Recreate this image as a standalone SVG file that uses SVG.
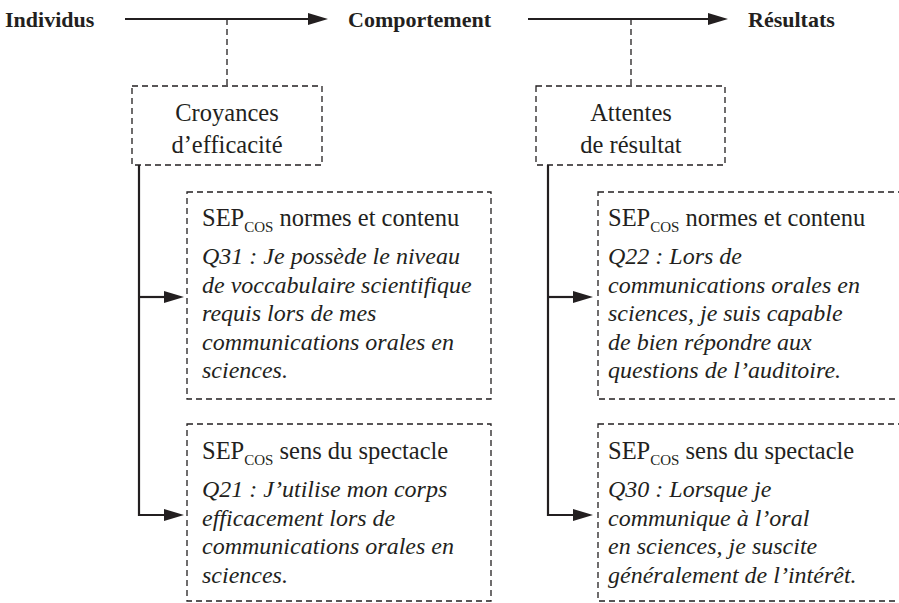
<svg xmlns="http://www.w3.org/2000/svg" width="899" height="603" viewBox="0 0 899 603">
<style>
text{font-family:"Liberation Serif",serif !important;fill:#231f20}
.hdr{font-weight:bold;font-size:22px}
.lbl{font-size:24.5px}
.it{font-style:italic;font-size:24px}
.sub{font-size:15px}
.box{fill:none;stroke:#231f20;stroke-width:1.3;stroke-dasharray:6 4}
.dash{fill:none;stroke:#231f20;stroke-width:1.3;stroke-dasharray:6 4}
.solid{fill:none;stroke:#231f20;stroke-width:2.2}
.head{fill:#231f20}
</style>
<g id="connectors">
  <line class="solid" x1="125" y1="19" x2="312" y2="19"/>
  <polygon class="head" points="328,19 308,13 308,25"/>
  <line class="solid" x1="528" y1="19" x2="712" y2="19"/>
  <polygon class="head" points="728,19 708,13 708,25"/>
  <line class="dash" x1="227" y1="19" x2="227" y2="86"/>
  <line class="dash" x1="631" y1="19" x2="631" y2="86"/>
  <polyline class="solid" points="139,165 139,515 168,515"/>
  <line class="solid" x1="139" y1="297" x2="168" y2="297"/>
  <polygon class="head" points="184,297 164,291 164,303"/>
  <polygon class="head" points="184,515 164,509 164,521"/>
  <polyline class="solid" points="548,165 548,515 577,515"/>
  <line class="solid" x1="548" y1="297" x2="577" y2="297"/>
  <polygon class="head" points="593,297 573,291 573,303"/>
  <polygon class="head" points="593,515 573,509 573,521"/>
</g>
<g id="individus"><text class="hdr" style="font-family:'Liberation Serif',serif" x="5" y="27">Individus</text></g>
<g id="comportement"><text class="hdr" style="font-family:'Liberation Serif',serif" x="348" y="27">Comportement</text></g>
<g id="resultats"><text class="hdr" style="font-family:'Liberation Serif',serif" x="748" y="27">Résultats</text></g>
<g id="croyances">
  <rect class="box" x="132" y="86" width="190" height="79"/>
  <text class="lbl" style="font-family:'Liberation Serif',serif" x="227" y="121" text-anchor="middle">Croyances</text>
  <text class="lbl" style="font-family:'Liberation Serif',serif" x="227" y="153" text-anchor="middle">d’efficacité</text>
</g>
<g id="attentes">
  <rect class="box" x="536" y="86" width="189" height="79"/>
  <text class="lbl" style="font-family:'Liberation Serif',serif" x="631" y="121" text-anchor="middle">Attentes</text>
  <text class="lbl" style="font-family:'Liberation Serif',serif" x="631" y="153" text-anchor="middle">de résultat</text>
</g>
<g id="sep-normes-q31">
  <rect class="box" x="187" y="192" width="304" height="207"/>
  <text class="lbl" style="font-family:'Liberation Serif',serif" x="202" y="226">SEP<tspan class="sub" dy="6">COS</tspan><tspan dy="-6"> normes et contenu</tspan></text>
  <text class="it" style="font-family:'Liberation Serif',serif" x="202" y="264">Q31 : Je possède le niveau</text>
  <text class="it" style="font-family:'Liberation Serif',serif" x="202" y="292.5">de voccabulaire scientifique</text>
  <text class="it" style="font-family:'Liberation Serif',serif" x="202" y="321">requis lors de mes</text>
  <text class="it" style="font-family:'Liberation Serif',serif" x="202" y="349.5">communications orales en</text>
  <text class="it" style="font-family:'Liberation Serif',serif" x="202" y="378">sciences.</text>
</g>
<g id="sep-spectacle-q21">
  <rect class="box" x="187" y="424" width="304" height="177"/>
  <text class="lbl" style="font-family:'Liberation Serif',serif" x="202" y="459">SEP<tspan class="sub" dy="6">COS</tspan><tspan dy="-6"> sens du spectacle</tspan></text>
  <text class="it" style="font-family:'Liberation Serif',serif" x="202" y="497">Q21 : J’utilise mon corps</text>
  <text class="it" style="font-family:'Liberation Serif',serif" x="202" y="525.5">efficacement lors de</text>
  <text class="it" style="font-family:'Liberation Serif',serif" x="202" y="554">communications orales en</text>
  <text class="it" style="font-family:'Liberation Serif',serif" x="202" y="582.5">sciences.</text>
</g>
<g id="sep-normes-q22">
  <rect class="box" x="598" y="192" width="320" height="207"/>
  <text class="lbl" style="font-family:'Liberation Serif',serif" x="608" y="226">SEP<tspan class="sub" dy="6">COS</tspan><tspan dy="-6"> normes et contenu</tspan></text>
  <text class="it" style="font-family:'Liberation Serif',serif" x="608" y="264">Q22 : Lors de</text>
  <text class="it" style="font-family:'Liberation Serif',serif" x="608" y="292.5">communications orales en</text>
  <text class="it" style="font-family:'Liberation Serif',serif" x="608" y="321">sciences, je suis capable</text>
  <text class="it" style="font-family:'Liberation Serif',serif" x="608" y="349.5">de bien répondre aux</text>
  <text class="it" style="font-family:'Liberation Serif',serif" x="608" y="378">questions de l’auditoire.</text>
</g>
<g id="sep-spectacle-q30">
  <rect class="box" x="598" y="424" width="320" height="177"/>
  <text class="lbl" style="font-family:'Liberation Serif',serif" x="608" y="459">SEP<tspan class="sub" dy="6">COS</tspan><tspan dy="-6"> sens du spectacle</tspan></text>
  <text class="it" style="font-family:'Liberation Serif',serif" x="608" y="497">Q30 : Lorsque je</text>
  <text class="it" style="font-family:'Liberation Serif',serif" x="608" y="525.5">communique à l’oral</text>
  <text class="it" style="font-family:'Liberation Serif',serif" x="608" y="554">en sciences, je suscite</text>
  <text class="it" style="font-family:'Liberation Serif',serif" x="608" y="582.5">généralement de l’intérêt.</text>
</g>
</svg>
